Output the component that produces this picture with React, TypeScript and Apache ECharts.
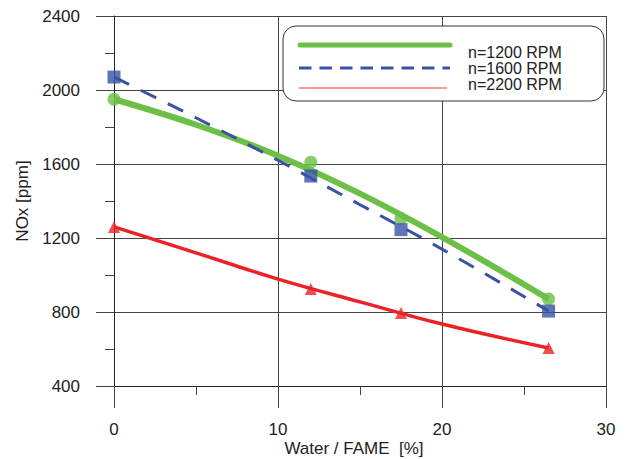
import React, { useEffect, useRef } from "react";
import * as echarts from "echarts";

// measured points
const measuredX = [0, 12, 17.5, 26.5];
const nox1200 = [1950, 1610, 1305, 870];
const nox1600 = [2070, 1535, 1245, 805];
const nox2200 = [1260, 925, 795, 605];

// trend curves
const trendX = [0, 5, 10, 15, 20, 26.5];
const trend1200 = [1950, 1812, 1645, 1440, 1205, 870];
const trend1600 = [2070, 1850, 1620, 1380, 1140, 805];
const trend2200 = [1260, 1120, 978, 855, 735, 605];

const legendLabels = ["n=1200 RPM", "n=1600 RPM", "n=2200 RPM"];
const xTitle = "Water / FAME  [%]";
const yTitle = "NOx [ppm]";

const GREEN = "#6cbf47";
const BLUE = "#3852a4";
const RED = "#ec2227";
const FONT = "Liberation Sans, Arial, sans-serif";

const zip = (xs: number[], ys: number[]) => xs.map((x, i) => [x, ys[i]]);

export default function App() {
  const ref = useRef<HTMLDivElement>(null);
  useEffect(() => {
    if (!ref.current) return;
    const chart = echarts.init(ref.current, undefined, { renderer: "svg" });
    const axisCommon = {
      axisLine: { show: true, lineStyle: { color: "#222", width: 1 } },
      splitLine: { show: true, lineStyle: { color: "#444", width: 1 } },
      minorTick: { show: true, splitNumber: 2, length: 9, lineStyle: { color: "#444", width: 1 } },
      axisLabel: { color: "#222", fontSize: 17, fontFamily: FONT, formatter: (v: number) => String(v) },
      nameTextStyle: { color: "#222", fontSize: 17, fontFamily: FONT },
    };
    chart.setOption({
      animation: false,
      backgroundColor: "#fff",
      grid: { left: 114, right: 23, top: 16, bottom: 73, containLabel: false, outerBoundsMode: "none" },
      xAxis: {
        type: "value",
        min: 0,
        max: 30,
        interval: 10,
        ...axisCommon,
        axisTick: { show: true, length: 22, lineStyle: { color: "#444" } },
        axisLabel: { ...axisCommon.axisLabel, margin: 35 },
      },
      yAxis: {
        type: "value",
        min: 400,
        max: 2400,
        interval: 400,
        ...axisCommon,
        axisTick: { show: true, length: 18, lineStyle: { color: "#444" } },
        axisLabel: { ...axisCommon.axisLabel, margin: 34 },
        name: yTitle,
        nameLocation: "middle",
        nameGap: 82,
      },
      series: [
        {
          type: "line",
          data: zip(trendX, trend1200),
          showSymbol: false,
          symbol: "none",
          smooth: 0.4,
          lineStyle: { color: GREEN, width: 6 },
          z: 2,
        },
        {
          type: "scatter",
          data: zip(measuredX, nox1200),
          symbol: "circle",
          symbolSize: 13,
          itemStyle: { color: GREEN },
          z: 3,
        },
        {
          type: "line",
          data: zip(trendX, trend1600),
          showSymbol: false,
          symbol: "none",
          smooth: 0.4,
          lineStyle: { color: BLUE, width: 3, type: [17, 13] },
          z: 4,
        },
        {
          type: "scatter",
          data: zip(measuredX, nox1600),
          symbol: "rect",
          symbolSize: 13,
          itemStyle: { color: BLUE },
          z: 5,
        },
        {
          type: "line",
          data: zip(trendX, trend2200),
          showSymbol: false,
          symbol: "none",
          smooth: 0.4,
          lineStyle: { color: RED, width: 3.5 },
          z: 6,
        },
        {
          type: "scatter",
          data: zip(measuredX, nox2200),
          symbol: "triangle",
          symbolSize: 12,
          itemStyle: { color: RED },
          z: 7,
        },
      ],
      graphic: [
        {
          type: "text",
          x: 354,
          y: 448,
          style: {
            text: xTitle,
            fill: "#222",
            font: `17px ${FONT}`,
            align: "center",
            verticalAlign: "middle",
          },
        },
        {
          type: "rect",
          shape: { x: 283, y: 26, width: 321, height: 75, r: 13 },
          style: { fill: "#fff", stroke: "#333", lineWidth: 1 },
          z: 100,
        },
        {
          type: "line",
          shape: { x1: 300, y1: 45, x2: 450, y2: 45 },
          style: { stroke: GREEN, lineWidth: 5, lineCap: "round" },
          z: 101,
        },
        {
          type: "line",
          shape: { x1: 299, y1: 68, x2: 450, y2: 68 },
          style: { stroke: BLUE, lineWidth: 3, lineDash: [12.5, 8] },
          z: 101,
        },
        {
          type: "line",
          shape: { x1: 299, y1: 88, x2: 447, y2: 88 },
          style: { stroke: "#f07a7a", lineWidth: 1.5 },
          z: 101,
        },
        ...legendLabels.map((t, i) => ({
          type: "text",
          x: 468,
          y: [52, 68, 84][i],
          style: {
            text: t,
            fill: "#222",
            font: `16px ${FONT}`,
            verticalAlign: "middle",
          },
          z: 101,
        })),
      ],
    });
    return () => chart.dispose();
  }, []);
  return (
    <div
      ref={ref}
      style={{ position: "fixed", left: 0, top: 0, width: 629, height: 459 }}
    />
  );
}
